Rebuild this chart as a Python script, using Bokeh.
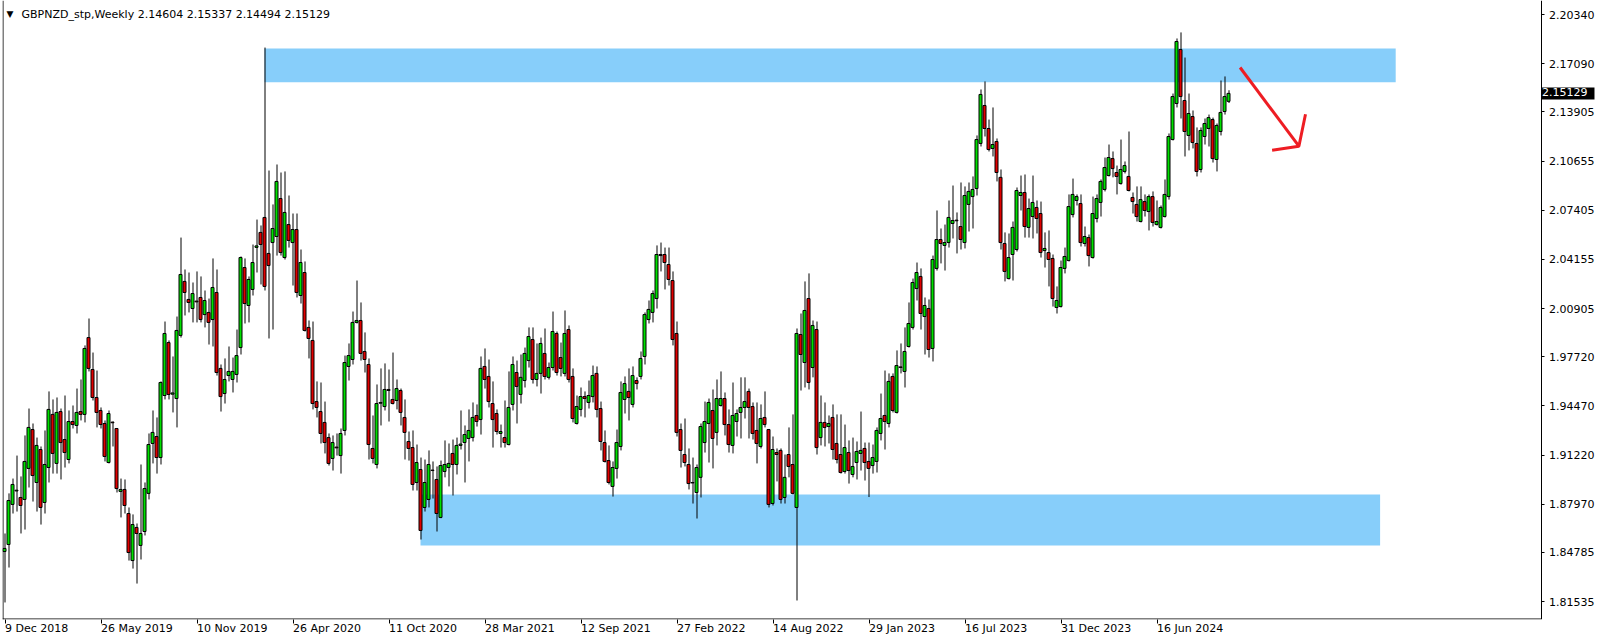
from bokeh.plotting import figure
from bokeh.models import ColumnDataSource, FixedTicker, Label, Range1d, PrintfTickFormatter
from bokeh.embed import file_html
from bokeh.resources import INLINE

# ---------------- data (weekly candles, first = week of 9 Dec 2018) ----------------
open_ = [
1.8485,1.8531,1.8796,1.8885,1.8842,1.8829,1.9034,1.9291,1.8941,1.9159,
1.8809,1.9040,1.9391,1.9067,1.9410,1.9225,1.9093,1.9344,1.9318,1.9410,
1.9391,1.9899,1.9688,1.9503,1.9417,1.9331,1.9073,1.9340,1.9298,1.8882,
1.8895,1.8736,1.8425,1.8644,1.8525,1.8617,1.8869,1.9199,1.9245,1.9106,
1.9516,1.9866,1.9525,1.9496,1.9913,2.0270,2.0151,2.0091,2.0140,2.0164,
2.0051,2.0065,2.0018,2.0197,1.9695,1.9529,1.9648,1.9622,1.9655,1.9833,
2.0362,2.0111,2.0217,2.0495,2.0594,2.0693,2.0455,2.0527,2.0567,2.0818,
2.0428,2.0646,2.0527,2.0613,2.0177,2.0329,1.9966,1.9880,1.9476,1.9410,
1.9338,1.9238,1.9100,1.9175,1.9119,1.9285,1.9708,1.9754,1.9999,2.0012,
1.9807,1.9721,1.9166,1.9060,1.9465,1.9443,1.9556,1.9490,1.9483,1.9549,
1.9371,1.9212,1.9172,1.8941,1.9027,1.8776,1.8829,1.9020,1.8961,1.8710,
1.9014,1.9040,1.9133,1.9060,1.9186,1.9205,1.9232,1.9238,1.9384,1.9357,
1.9708,1.9642,1.9463,1.9397,1.9265,1.9238,1.9192,1.9457,1.9668,1.9523,
1.9615,1.9747,1.9886,1.9622,1.9662,1.9794,1.9636,1.9701,1.9926,1.9767,
1.9662,1.9952,1.9642,1.9331,1.9424,1.9509,1.9470,1.9509,1.9662,1.9430,
1.9205,1.9086,1.8915,1.9034,1.9179,1.9490,1.9543,1.9457,1.9615,1.9642,
1.9774,2.0018,2.0065,2.0157,2.0448,2.0448,2.0382,2.0276,1.9926,1.9291,
1.9126,1.9060,1.8938,1.8875,1.8975,1.9205,1.9331,1.9417,1.9272,1.9450,
1.9496,1.9324,1.9186,1.9344,1.9404,1.9437,1.9543,1.9443,1.9285,1.9179,
1.9371,1.9291,1.8802,1.9139,1.9153,1.8842,1.9126,1.9060,1.8776,1.9919,
1.9734,2.0157,1.9701,1.9952,1.9238,1.9338,1.9311,1.9371,1.9199,1.9126,
1.9014,1.9139,1.8994,1.9073,1.9133,1.9166,1.9080,1.9053,1.9080,1.9265,
1.9384,1.9331,1.9642,1.9404,1.9705,1.9675,1.9840,1.9966,2.0223,2.0303,
2.0038,2.0091,1.9827,2.0356,2.0547,2.0508,2.0527,2.0653,2.0675,2.0633,
2.0527,2.0779,2.0831,2.0884,2.1182,2.1433,2.1281,2.1149,2.1195,2.0958,
2.0521,2.0289,2.0448,2.0481,2.0838,2.0858,2.0627,2.0699,2.0759,2.0719,
2.0474,2.0461,2.0422,2.0098,2.0104,2.0356,2.0408,2.0712,2.0805,2.0785,
2.0521,2.0560,2.0428,2.0686,2.0792,2.0878,2.0970,2.1082,2.0990,2.0917,
2.0997,2.0964,2.0825,2.0779,2.0666,2.0798,2.0732,2.0831,2.0646,2.0627,
2.0699,2.0831,2.1208,2.1446,2.1803,2.1466,2.1235,2.1360,2.1182,2.1010,
2.1228,2.1281,2.1340,2.1076,2.1261,2.1393,2.14604]
high = [
1.8604,1.8869,1.8967,1.9119,1.8981,1.9252,1.9430,1.9331,1.9238,1.9179,
1.9285,1.9543,1.9490,1.9503,1.9430,1.9516,1.9417,1.9450,1.9562,1.9622,
1.9847,2.0025,1.9800,1.9681,1.9437,1.9351,1.9417,1.9344,1.9300,1.8967,
1.8961,1.8776,1.8730,1.8670,1.9060,1.8941,1.9265,1.9417,1.9371,1.9609,
2.0005,1.9880,1.9774,2.0038,2.0560,2.0349,2.0329,2.0263,2.0336,2.0303,
2.0210,2.0157,2.0422,2.0349,1.9721,1.9761,1.9840,1.9767,1.9952,2.0435,
2.0422,2.0303,2.0514,2.0679,2.0640,2.1816,2.1003,2.0779,2.1043,2.0990,
2.0997,2.0838,2.0719,2.0719,2.0481,2.0402,2.0012,2.0005,1.9609,1.9602,
1.9476,1.9265,1.9252,1.9265,1.9298,1.9780,1.9860,2.0071,2.0276,2.0131,
1.9933,1.9761,1.9384,1.9589,1.9695,1.9728,1.9688,1.9800,1.9622,1.9562,
1.9490,1.9278,1.9285,1.9192,1.9106,1.9093,1.9153,1.9080,1.9047,1.9086,
1.9219,1.9199,1.9225,1.9238,1.9417,1.9318,1.9424,1.9470,1.9457,1.9774,
1.9827,1.9754,1.9609,1.9424,1.9324,1.9483,1.9675,1.9774,1.9747,1.9787,
1.9833,1.9966,1.9966,1.9860,1.9899,1.9959,1.9734,2.0071,1.9939,1.9866,
2.0078,1.9979,1.9695,1.9516,1.9569,1.9543,1.9615,1.9714,1.9708,1.9476,
1.9285,1.9186,1.9080,1.9291,1.9609,1.9642,1.9695,1.9708,1.9636,1.9807,
2.0065,2.0144,2.0210,2.0508,2.0527,2.0494,2.0494,2.0336,2.0005,1.9331,
1.9364,1.9166,1.9106,1.9060,1.9331,1.9476,1.9496,1.9556,1.9622,1.9675,
1.9536,1.9424,1.9602,1.9424,1.9636,1.9636,1.9562,1.9470,1.9470,1.9457,
1.9543,1.9295,1.9245,1.9166,1.9166,1.9126,1.9305,1.9391,1.9959,2.0058,
2.0270,2.0323,2.0012,2.0005,1.9516,1.9470,1.9384,1.9457,1.9391,1.9391,
1.9324,1.9219,1.9238,1.9212,1.9410,1.9205,1.9205,1.9192,1.9305,1.9529,
1.9681,1.9662,1.9662,1.9814,1.9860,1.9966,2.0131,2.0289,2.0395,2.0356,
2.0164,2.0151,2.0441,2.0739,2.0620,2.0646,2.0805,2.0904,2.0726,2.0924,
2.0898,2.0924,2.0964,2.1235,2.1539,2.1592,2.1340,2.1420,2.1215,2.1010,
2.0594,2.0587,2.0666,2.0891,2.0970,2.0977,2.0818,2.0970,2.0805,2.0798,
2.0594,2.0607,2.0448,2.0237,2.0408,2.0494,2.0845,2.0950,2.0845,2.0845,
2.0633,2.0580,2.0831,2.0845,2.0944,2.1089,2.1175,2.1129,2.1036,2.1208,
2.1063,2.1261,2.0858,2.0898,2.0898,2.0845,2.0845,2.0865,2.0805,2.0772,
2.0944,2.1248,2.1512,2.1876,2.1916,2.1750,2.1512,2.1400,2.1288,2.1288,
2.1347,2.1373,2.1353,2.1314,2.1598,2.1625,2.15337]
low = [
1.8148,1.8379,1.8736,1.8749,1.8604,1.8630,1.8908,1.8815,1.8749,1.8663,
1.8736,1.8941,1.9000,1.9000,1.8961,1.9040,1.9067,1.9298,1.9265,1.9351,
1.9338,1.9675,1.9483,1.9305,1.9298,1.9080,1.9067,1.9179,1.8875,1.8710,
1.8736,1.8425,1.8372,1.8273,1.8432,1.8591,1.8829,1.9067,1.9000,1.9060,
1.9490,1.9490,1.9404,1.9305,1.9899,2.0045,2.0065,1.9999,1.9999,1.9999,
1.9966,1.9853,1.9840,1.9648,1.9410,1.9463,1.9609,1.9536,1.9602,1.9787,
1.9992,1.9999,2.0177,2.0329,2.0250,2.0210,1.9893,1.9952,2.0441,2.0441,
2.0415,2.0494,2.0243,2.0164,2.0124,1.9939,1.9761,1.9424,1.9371,1.9199,
1.9133,1.9053,1.9020,1.9119,1.9000,1.9252,1.9615,1.9721,1.9992,1.9747,
1.9668,1.9093,1.9067,1.9034,1.9318,1.9417,1.9344,1.9457,1.9424,1.9318,
1.9093,1.9086,1.8888,1.8888,1.8564,1.8749,1.8776,1.8835,1.8617,1.8705,
1.8975,1.8915,1.8855,1.8994,1.9159,1.8941,1.9080,1.9212,1.9311,1.9258,
1.9562,1.9437,1.9172,1.9258,1.9172,1.9172,1.9186,1.9417,1.9331,1.9463,
1.9569,1.9701,1.9595,1.9576,1.9529,1.9622,1.9622,1.9681,1.9648,1.9642,
1.9642,1.9602,1.9338,1.9324,1.9378,1.9371,1.9430,1.9470,1.9371,1.9153,
1.9073,1.8928,1.8848,1.8967,1.9153,1.9397,1.9351,1.9437,1.9556,1.9622,
1.9721,1.9992,1.9999,2.0091,2.0336,2.0217,2.0243,1.9847,1.9245,1.9040,
1.9047,1.8895,1.8802,1.8703,1.8842,1.9139,1.9073,1.9034,1.9186,1.9443,
1.9252,1.9139,1.9133,1.9245,1.9232,1.9364,1.9232,1.9225,1.9067,1.9166,
1.9305,1.8776,1.8789,1.8948,1.8802,1.8802,1.8975,1.8862,1.8161,1.9549,
1.9569,1.9556,1.9636,1.9126,1.9186,1.9179,1.9199,1.9093,1.9067,1.9000,
1.9000,1.8934,1.8975,1.8961,1.9020,1.8954,1.8845,1.9000,1.9007,1.9219,
1.9159,1.9305,1.9404,1.9397,1.9662,1.9569,1.9833,1.9952,2.0144,1.9952,
1.9787,1.9767,1.9741,2.0342,2.0389,2.0342,2.0494,2.0554,2.0455,2.0481,
2.0488,2.0600,2.0620,2.0838,2.1162,2.1228,2.1129,2.1096,2.0931,2.0481,
2.0270,2.0283,2.0276,2.0468,2.0739,2.0560,2.0560,2.0554,2.0587,2.0428,
2.0362,2.0237,2.0104,2.0058,2.0098,2.0323,2.0402,2.0693,2.0772,2.0501,
2.0501,2.0369,2.0421,2.0660,2.0699,2.0865,2.0964,2.0958,2.0845,2.0910,
2.0984,2.0865,2.0719,2.0666,2.0660,2.0699,2.0607,2.0633,2.0640,2.0620,
2.0693,2.0811,2.1202,2.1420,2.1347,2.1096,2.1136,2.1149,2.0964,2.0990,
2.1175,2.1162,2.1056,2.0997,2.1235,2.1373,2.14494]
close = [
1.8505,1.8822,1.8928,1.8890,1.8789,1.9080,1.9305,1.8987,1.9186,1.8776,
1.9060,1.9424,1.9133,1.9404,1.9205,1.9139,1.9344,1.9324,1.9404,1.9391,
1.9827,1.9695,1.9503,1.9404,1.9324,1.9113,1.9397,1.9336,1.8901,1.8895,
1.8789,1.8478,1.8663,1.8604,1.8604,1.8901,1.9192,1.9272,1.9106,1.9602,
1.9926,1.9523,1.9533,1.9946,2.0316,2.0197,2.0131,2.0190,2.0135,2.0018,
2.0144,1.9999,2.0230,1.9668,1.9509,1.9622,1.9675,1.9675,1.9780,2.0428,
2.0124,2.0283,2.0395,2.0505,2.0514,2.0237,2.0375,2.0620,2.0931,2.0461,
2.0726,2.0541,2.0613,2.0197,2.0395,1.9946,1.9893,1.9463,1.9437,1.9265,
1.9205,1.9067,1.9205,1.9170,1.9265,1.9734,1.9780,1.9999,2.0012,1.9794,
1.9754,1.9192,1.9100,1.9463,1.9470,1.9556,1.9549,1.9463,1.9562,1.9404,
1.9272,1.9166,1.8928,1.9073,1.8624,1.8941,1.9060,1.9023,1.8736,1.9053,
1.9060,1.9067,1.9060,1.9186,1.9195,1.9258,1.9285,1.9371,1.9344,1.9695,
1.9622,1.9476,1.9357,1.9278,1.9278,1.9205,1.9437,1.9721,1.9576,1.9636,
1.9794,1.9906,1.9622,1.9662,1.9860,1.9642,1.9701,1.9939,1.9668,1.9695,
1.9926,1.9622,1.9364,1.9443,1.9509,1.9496,1.9516,1.9648,1.9424,1.9212,
1.9080,1.8941,1.9040,1.9205,1.9536,1.9595,1.9503,1.9648,1.9595,1.9761,
2.0051,2.0085,2.0190,2.0448,2.0441,2.0395,2.0283,1.9886,1.9272,1.9153,
1.9073,1.8934,1.8941,1.9040,1.9311,1.9344,1.9470,1.9232,1.9496,1.9496,
1.9324,1.9192,1.9384,1.9397,1.9437,1.9476,1.9437,1.9265,1.9199,1.9364,
1.9324,1.8796,1.9159,1.9126,1.8829,1.8975,1.9047,1.8869,1.9926,1.9787,
2.0078,1.9602,1.9979,1.9172,1.9338,1.9305,1.9331,1.9159,1.9093,1.9007,
1.9172,1.9020,1.9047,1.9146,1.9153,1.9073,1.9034,1.9106,1.9285,1.9364,
1.9344,1.9609,1.9417,1.9714,1.9701,1.9807,1.9992,2.0263,2.0329,2.0058,
2.0111,1.9820,2.0415,2.0547,2.0521,2.0527,2.0693,2.0673,2.0671,2.0547,
2.0838,2.0865,2.0878,2.1208,2.1506,2.1281,2.1142,2.1175,2.0990,2.0527,
2.0336,2.0428,2.0627,2.0871,2.0858,2.0633,2.0752,2.0792,2.0686,2.0461,
2.0488,2.0415,2.0157,2.0144,2.0362,2.0435,2.0765,2.0845,2.0831,2.0527,
2.0567,2.0441,2.0719,2.0818,2.0931,2.1023,2.1089,2.1016,2.0964,2.1010,
2.1036,2.0871,2.0798,2.0699,2.0811,2.0739,2.0831,2.0660,2.0666,2.0759,
2.0845,2.1228,2.1492,2.1856,2.1492,2.1261,2.1380,2.1188,2.0997,2.1268,
2.1314,2.1353,2.1082,2.1301,2.1387,2.1492,2.15129]

date_tick_weeks = [0, 24, 48, 72, 96, 120, 144, 168, 192, 216, 240, 264, 288]
date_tick_labels = ["9 Dec 2018", "26 May 2019", "10 Nov 2019", "26 Apr 2020", "11 Oct 2020",
                    "28 Mar 2021", "12 Sep 2021", "27 Feb 2022", "14 Aug 2022", "29 Jan 2023",
                    "16 Jul 2023", "31 Dec 2023", "16 Jun 2024"]
price_ticks = [2.20340, 2.17090, 2.13905, 2.10655, 2.07405, 2.04155, 2.00905,
               1.97720, 1.94470, 1.91220, 1.87970, 1.84785, 1.81535]

# drawn zones (rectangles) and the red arrow
zone_left = [65.0, 104.0]
zone_right = [347.8, 343.9]
zone_top = [2.1810, 1.8862]
zone_bottom = [2.1587, 1.8525]
arrow_shaft_x = [308.9, 323.6]
arrow_shaft_y = [2.1684, 2.1164]
arrow_head_x = [316.9, 323.6, 325.25]
arrow_head_y = [2.1137, 2.1164, 2.1375]

title_text = "GBPNZD_stp,Weekly  2.14604 2.15337 2.14494 2.15129"
last_price = 2.15129

# ---------------- figure ----------------
BULL = "#00E000"
BEAR = "#E00000"
FONT = "DejaVu Sans"
WICK_SHIFT = 0.125   # half a pixel, keeps the 1px wick crisp inside the 4px body

X0, X1 = -0.5, 400.0              # whole canvas width (price scale lives inside)
CHART_LEFT, CHART_RIGHT = -0.375, 384.125
Y0, Y1 = 1.80354, 2.2127
CHART_BOTTOM = 1.80387

p = figure(width=1604, height=644, output_backend="svg", toolbar_location=None,
           title=None, x_range=Range1d(X0, X1), y_range=Range1d(Y0, Y1),
           y_axis_location="right", min_border_left=2, min_border_top=0,
           min_border_right=0, min_border_bottom=25)
p.background_fill_color = "white"
p.border_fill_color = "white"
p.outline_line_color = None
p.xgrid.visible = False
p.ygrid.visible = False

# right price axis, fixed at the right edge of the chart area
p.yaxis.fixed_location = CHART_RIGHT
p.yaxis.ticker = FixedTicker(ticks=price_ticks)
p.yaxis.formatter = PrintfTickFormatter(format="%.5f")
p.yaxis.major_label_text_font = FONT
p.yaxis.major_label_text_font_size = "11px"
p.yaxis.major_label_text_color = "black"
p.yaxis.major_tick_in = 0
p.yaxis.major_tick_out = 3
p.yaxis.minor_tick_line_color = None
p.yaxis.axis_line_color = "black"
p.yaxis.major_tick_line_color = "black"
p.yaxis.major_label_standoff = 5

# bottom time axis: labels start at their tick (left aligned)
p.xaxis.ticker = FixedTicker(ticks=[t + WICK_SHIFT for t in date_tick_weeks])
p.xaxis.major_label_overrides = {t + WICK_SHIFT: lab for t, lab in zip(date_tick_weeks, date_tick_labels)}
p.xaxis.major_label_orientation = -0.0001
p.xaxis.major_label_text_font = FONT
p.xaxis.major_label_text_font_size = "11px"
p.xaxis.major_label_text_color = "black"
p.xaxis.major_label_standoff = 5
p.xaxis.major_tick_in = 0
p.xaxis.major_tick_out = 4
p.xaxis.minor_tick_line_color = None
p.xaxis.axis_line_color = None
p.xaxis.major_tick_line_color = "black"

# chart border (left and bottom)
p.segment(x0=[CHART_LEFT, X0], y0=[Y0, CHART_BOTTOM], x1=[CHART_LEFT, CHART_RIGHT],
          y1=[Y1, CHART_BOTTOM], line_color="black", line_width=1)

# zones
p.quad(left=zone_left, right=zone_right, top=zone_top, bottom=zone_bottom,
       fill_color="#87CEFA", line_color=None)

# candles
n = len(close)
xs = list(range(n))
src = ColumnDataSource(dict(
    x=xs, xw=[x + WICK_SHIFT for x in xs],
    open=open_, high=high, low=low, close=close,
    top=[max(o, c) for o, c in zip(open_, close)],
    bottom=[min(o, c) for o, c in zip(open_, close)],
    color=[BULL if c >= o else BEAR for o, c in zip(open_, close)],
))
p.segment(x0="xw", y0="low", x1="xw", y1="high", source=src, line_color="black", line_width=1)
p.vbar(x="x", width=0.75, top="top", bottom="bottom", source=src,
       fill_color="color", line_color="black", line_width=1)

# arrow
p.line(arrow_shaft_x, arrow_shaft_y, line_color="#EE1D23", line_width=3)
p.line(arrow_head_x, arrow_head_y, line_color="#EE1D23", line_width=3)

# title
p.add_layout(Label(x=X0, y=Y1, text="\u25BC", text_align="left", text_baseline="top",
                   x_offset=4, y_offset=-8, text_font=FONT, text_font_size="9px", text_color="black"))
p.add_layout(Label(x=X0, y=Y1, text=title_text, text_align="left", text_baseline="top",
                   x_offset=19, y_offset=-7, text_font=FONT, text_font_size="11px", text_color="black"))

# current price box on the price scale
p.add_layout(Label(x=CHART_RIGHT, y=last_price, text="2.15129", text_align="left", text_baseline="middle",
                   x_offset=1, text_font=FONT, text_font_size="11px", text_color="white",
                   background_fill_color="black", padding=(0, 7, 1, 3)))

open("out.html", "w").write(file_html(p, INLINE))
